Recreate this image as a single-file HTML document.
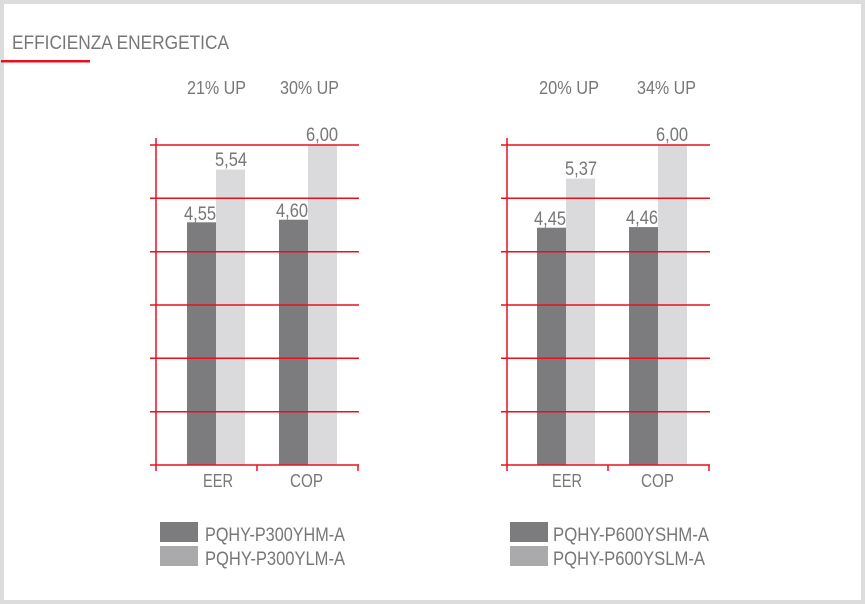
<!DOCTYPE html>
<html><head><meta charset="utf-8"><style>
html,body{margin:0;padding:0;background:#fff}
svg{display:block}
text{font-family:"Liberation Sans",sans-serif;fill:#777}
</style></head><body>
<svg width="865" height="604" viewBox="0 0 865 604" xmlns="http://www.w3.org/2000/svg">
<rect x="2" y="2" width="861" height="600" fill="#fff" stroke="#dcdcdc" stroke-width="4"/>
<text x="12" y="49" font-size="19" textLength="217" lengthAdjust="spacingAndGlyphs">EFFICIENZA ENERGETICA</text>
<rect x="1" y="60" width="89" height="2.5" fill="#e8101e"/>

<g font-size="18">
<text x="187" y="94" textLength="59" lengthAdjust="spacingAndGlyphs">21% UP</text>
<text x="280" y="94" textLength="59" lengthAdjust="spacingAndGlyphs">30% UP</text>
<text x="539" y="94" textLength="60" lengthAdjust="spacingAndGlyphs">20% UP</text>
<text x="637" y="94" textLength="59" lengthAdjust="spacingAndGlyphs">34% UP</text>
</g>

<!-- chart 1 -->
<g>
<rect x="187" y="222.3" width="29" height="242.7" fill="#7c7c7e"/>
<rect x="216" y="169.5" width="29" height="295.5" fill="#dadadc"/>
<rect x="279" y="219.7" width="29" height="245.3" fill="#7c7c7e"/>
<rect x="308" y="145" width="29" height="320" fill="#dadadc"/>
<g stroke="#e8101e" stroke-width="1.5">
<line x1="150" y1="145" x2="359" y2="145"/>
<line x1="150" y1="198.3" x2="359" y2="198.3"/>
<line x1="150" y1="251.7" x2="359" y2="251.7"/>
<line x1="150" y1="305" x2="359" y2="305"/>
<line x1="150" y1="358.3" x2="359" y2="358.3"/>
<line x1="150" y1="411.7" x2="359" y2="411.7"/>
<line x1="150" y1="465" x2="359" y2="465"/>
<line x1="156" y1="138" x2="156" y2="471"/>
<line x1="257" y1="465" x2="257" y2="471"/>
<line x1="358" y1="465" x2="358" y2="471"/>
</g>
<g font-size="19">
<text x="184" y="220" textLength="32" lengthAdjust="spacingAndGlyphs">4,55</text>
<text x="215" y="166" textLength="32" lengthAdjust="spacingAndGlyphs">5,54</text>
<text x="276" y="217" textLength="32" lengthAdjust="spacingAndGlyphs">4,60</text>
<text x="306" y="141" textLength="32" lengthAdjust="spacingAndGlyphs">6,00</text>
</g>
<g font-size="18">
<text x="203" y="487" textLength="30" lengthAdjust="spacingAndGlyphs">EER</text>
<text x="290" y="487" textLength="33" lengthAdjust="spacingAndGlyphs">COP</text>
</g>
</g>

<!-- chart 2 -->
<g>
<rect x="537" y="227.7" width="29" height="237.3" fill="#7c7c7e"/>
<rect x="566" y="178.6" width="29" height="286.4" fill="#dadadc"/>
<rect x="629" y="227.1" width="29" height="237.9" fill="#7c7c7e"/>
<rect x="658" y="145" width="29" height="320" fill="#dadadc"/>
<g stroke="#e8101e" stroke-width="1.5">
<line x1="501" y1="145" x2="710" y2="145"/>
<line x1="501" y1="198.3" x2="710" y2="198.3"/>
<line x1="501" y1="251.7" x2="710" y2="251.7"/>
<line x1="501" y1="305" x2="710" y2="305"/>
<line x1="501" y1="358.3" x2="710" y2="358.3"/>
<line x1="501" y1="411.7" x2="710" y2="411.7"/>
<line x1="501" y1="465" x2="710" y2="465"/>
<line x1="507" y1="138" x2="507" y2="471"/>
<line x1="608" y1="465" x2="608" y2="471"/>
<line x1="709" y1="465" x2="709" y2="471"/>
</g>
<g font-size="19">
<text x="534" y="225" textLength="32" lengthAdjust="spacingAndGlyphs">4,45</text>
<text x="565" y="175" textLength="32" lengthAdjust="spacingAndGlyphs">5,37</text>
<text x="626" y="224" textLength="32" lengthAdjust="spacingAndGlyphs">4,46</text>
<text x="656" y="141" textLength="32" lengthAdjust="spacingAndGlyphs">6,00</text>
</g>
<g font-size="18">
<text x="552" y="487" textLength="30" lengthAdjust="spacingAndGlyphs">EER</text>
<text x="641" y="487" textLength="33" lengthAdjust="spacingAndGlyphs">COP</text>
</g>
</g>

<!-- legends -->
<rect x="160" y="522" width="38" height="20" fill="#7c7c7e"/>
<rect x="160" y="546" width="38" height="20" fill="#aaaaad"/>
<text x="205" y="541" font-size="19" textLength="140" lengthAdjust="spacingAndGlyphs">PQHY-P300YHM-A</text>
<text x="205" y="565" font-size="19" textLength="140" lengthAdjust="spacingAndGlyphs">PQHY-P300YLM-A</text>
<rect x="510" y="522" width="38" height="20" fill="#7c7c7e"/>
<rect x="510" y="546" width="38" height="20" fill="#aaaaad"/>
<text x="553" y="541" font-size="19" textLength="156" lengthAdjust="spacingAndGlyphs">PQHY-P600YSHM-A</text>
<text x="553" y="565" font-size="19" textLength="152" lengthAdjust="spacingAndGlyphs">PQHY-P600YSLM-A</text>
</svg>
</body></html>
